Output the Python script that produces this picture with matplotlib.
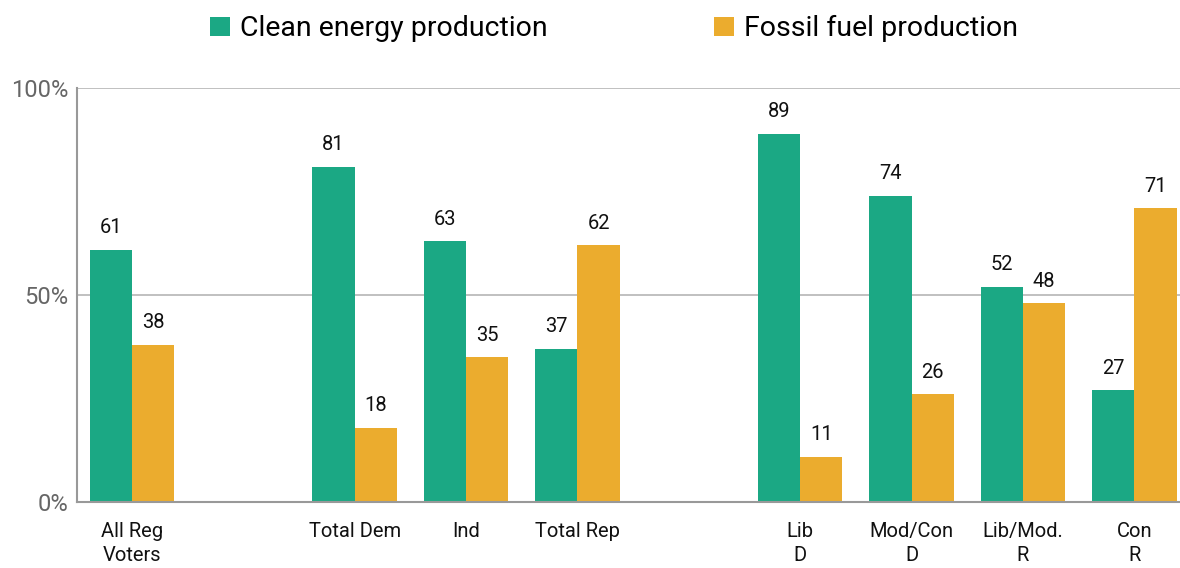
import matplotlib.pyplot as plt
import numpy as np

plt.rcParams['font.family'] = ['Roboto', 'DejaVu Sans']

# data
groups = ["All Reg\nVoters", "Total Dem", "Ind", "Total Rep",
          "Lib\nD", "Mod/Con\nD", "Lib/Mod.\nR", "Con\nR"]
slots = [0, 2, 3, 4, 6, 7, 8, 9]
clean = [61, 81, 63, 37, 89, 74, 52, 27]
fossil = [38, 18, 35, 62, 11, 26, 48, 71]

green = "#1ba884"
orange = "#ebac2e"

fig = plt.figure(figsize=(11.8, 5.68), dpi=100)
ax = fig.add_axes([0.065, 0.116, 0.935, 0.729])

x = np.array(slots, dtype=float)
w = 0.38
b1 = ax.bar(x - w / 2, clean, w, color=green, label="Clean energy production")
b2 = ax.bar(x + w / 2, fossil, w, color=orange, label="Fossil fuel production")

for bars in (b1, b2):
    for r in bars:
        ax.text(r.get_x() + r.get_width() / 2, r.get_height() + 3,
                f"{r.get_height():.0f}", ha="center", va="bottom",
                fontsize=14.5, color="#111111")

ax.set_xlim(-0.495, 9.41)
ax.set_ylim(0, 100)
ax.set_yticks([0, 50, 100])
ax.set_yticklabels(["0%", "50%", "100%"], fontsize=17, color="#666666")
ax.set_xticks(x)
ax.set_xticklabels(groups, fontsize=14.5, color="#111111", linespacing=1.35)
ax.tick_params(axis="both", length=0)
ax.tick_params(axis="x", pad=14)
ax.tick_params(axis="y", pad=6)

ax.grid(axis="y", color="#bbbbbb", linewidth=1.3)
ax.set_axisbelow(True)
for s in ["top", "right"]:
    ax.spines[s].set_visible(False)
ax.spines["left"].set_color("#999999")
ax.spines["bottom"].set_color("#999999")
ax.spines["left"].set_linewidth(1.5)
ax.spines["bottom"].set_linewidth(1.5)

fig.legend(loc="upper center", bbox_to_anchor=(0.52, 1.018), ncol=2,
           frameon=False, fontsize=20.5, handlelength=0.7, handleheight=0.7,
           handletextpad=0.35, columnspacing=5.85)

fig.savefig("out.png", dpi=100)
